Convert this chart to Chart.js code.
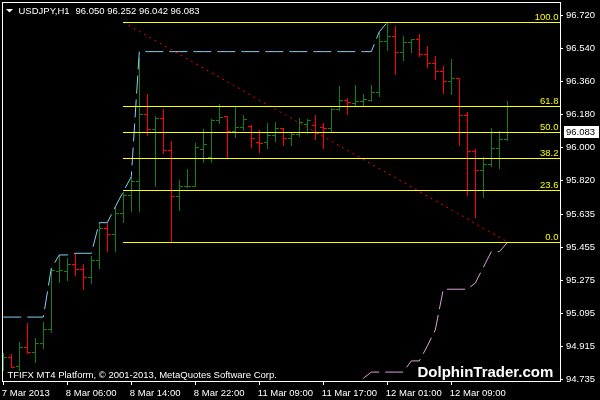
<!DOCTYPE html>
<html>
<head>
<meta charset="utf-8">
<script src="https://cdn.jsdelivr.net/npm/chart.js@4.4.0/dist/chart.umd.min.js"></script>
<style>
html,body{margin:0;padding:0;background:#000;}
canvas{display:block;}
</style>
</head>
<body>
<canvas id="c" width="600" height="400"></canvas>
<script>
// ---------------- data ----------------
const symbolTitle = 'USDJPY,H1';
const titleQuote = '96.050 96.252 96.042 96.083';
const copyrightText = 'TFIFX MT4 Platform, \u00A9 2001-2013, MetaQuotes Software Corp.';
const watermarkText = 'DolphinTrader.com';

const opens = [
  94.815, 94.860, 94.809, 94.914, 94.887, 94.936, 95.009, 95.328, 95.329, 95.366,
  95.337, 95.296, 95.387, 95.560, 95.529, 95.642, 95.742, 95.820, 96.184, 96.100,
  96.160, 95.987, 95.737, 95.791, 95.793, 95.995, 95.950, 96.151, 96.173, 96.093,
  96.111, 96.118, 96.033, 96.030, 96.069, 96.109, 96.051, 96.075, 96.128, 96.124,
  96.115, 96.106, 96.209, 96.260, 96.242, 96.255, 96.260, 96.305, 96.582, 96.611,
  96.520, 96.575, 96.593, 96.509, 96.460, 96.418, 96.364, 96.379, 96.178, 95.982,
  95.877, 95.909, 95.997, 96.050
];
const highs = [
  94.879, 94.875, 94.942, 95.042, 94.960, 95.051, 95.342, 95.415, 95.397, 95.424,
  95.366, 95.409, 95.591, 95.588, 95.678, 95.760, 95.842, 96.488, 96.293, 96.173,
  96.209, 96.038, 95.824, 95.882, 96.027, 96.100, 96.155, 96.238, 96.173, 96.224,
  96.178, 96.124, 96.097, 96.133, 96.142, 96.109, 96.084, 96.160, 96.157, 96.178,
  96.133, 96.218, 96.338, 96.269, 96.342, 96.291, 96.342, 96.633, 96.684, 96.665,
  96.611, 96.593, 96.619, 96.556, 96.502, 96.447, 96.484, 96.382, 96.193, 95.993,
  95.951, 96.109, 96.091, 96.252
];
const lows = [
  94.787, 94.805, 94.787, 94.879, 94.833, 94.906, 94.996, 95.269, 95.278, 95.306,
  95.228, 95.264, 95.342, 95.438, 95.438, 95.596, 95.656, 95.656, 96.069, 95.791,
  95.969, 95.491, 95.660, 95.787, 95.791, 95.924, 95.924, 96.133, 95.942, 96.060,
  96.097, 96.005, 95.975, 95.997, 96.037, 96.015, 96.015, 96.065, 96.079, 96.047,
  95.997, 96.084, 96.206, 96.182, 96.233, 96.229, 96.255, 96.284, 96.533, 96.400,
  96.478, 96.524, 96.502, 96.442, 96.375, 96.297, 96.291, 96.015, 95.742, 95.624,
  95.733, 95.902, 95.888, 96.042
];
const closes = [
  94.860, 94.805, 94.914, 94.884, 94.936, 95.009, 95.333, 95.333, 95.366, 95.337,
  95.296, 95.387, 95.560, 95.529, 95.642, 95.742, 95.820, 96.184, 96.100, 96.160,
  95.987, 95.737, 95.791, 95.793, 96.002, 96.022, 96.151, 96.166, 96.093, 96.111,
  96.155, 96.051, 96.027, 96.069, 96.109, 96.051, 96.075, 96.142, 96.151, 96.079,
  96.106, 96.209, 96.260, 96.248, 96.255, 96.266, 96.305, 96.582, 96.611, 96.520,
  96.575, 96.593, 96.509, 96.460, 96.418, 96.364, 96.379, 96.178, 95.982, 95.877,
  95.909, 95.997, 96.047, 96.083
];

const upperChannel = [
  95.076, 95.076, 95.076, 95.076, 95.076, 95.076, 95.342, 95.415, 95.415, 95.424,
  95.424, 95.424, 95.591, 95.591, 95.678, 95.760, 95.842, 96.524, 96.524, 96.524,
  96.524, 96.524, 96.524, 96.524, 96.524, 96.524, 96.524, 96.524, 96.524, 96.524,
  96.524, 96.524, 96.524, 96.524, 96.524, 96.524, 96.524, 96.524, 96.524, 96.524,
  96.524, 96.524, 96.524, 96.524, 96.524, 96.524, 96.524, 96.633, 96.684, null,
  null, null, null, null, null, null, null, null, null, null,
  null, null, null, null
];
const lowerChannel = [
  null, null, null, null, null, null, null, null, null, null,
  null, null, null, null, null, null, null, null, null, null,
  null, null, null, null, null, null, null, null, null, null,
  null, null, null, null, null, null, null, null, null, null,
  null, null, null, null, null, 94.742, 94.776, 94.776, 94.776, 94.776,
  94.776, 94.837, 94.837, 94.918, 95.006, 95.228, 95.228, 95.228, 95.228, 95.262,
  95.347, 95.433, 95.433, 95.482
];

const fibLevels = [96.684, 96.227, 96.085, 95.943, 95.769, 95.487];
const fibLabels = ['100.0', '61.8', '50.0', '38.2', '23.6', '0.0'];
const fibStartBar = 15;
const fibTrendBars = [15, 63];
const fibTrendPrices = [96.684, 95.487];

const xTickBars = [0, 8, 16, 24, 32, 40, 48, 56];
const xTickLabels = ['7 Mar 2013', '8 Mar 06:00', '8 Mar 14:00', '8 Mar 22:00',
                     '11 Mar 09:00', '11 Mar 17:00', '12 Mar 01:00', '12 Mar 09:00'];
const yTickLabels = ['96.720', '96.540', '96.360', '96.180', '96.000', '95.820',
                     '95.635', '95.455', '95.275', '95.095', '94.915', '94.735'];
const currentPrice = 96.083;
const currentPriceLabel = '96.083';

// ---------------- styles ----------------
const FONT = '"Liberation Sans", Arial, sans-serif';
const GREEN = '#168016';
const RED = '#ff0000';
const YELLOW = '#ffff00';

Chart.defaults.font.family = FONT;
Chart.defaults.font.size = 9.5;
Chart.defaults.color = '#ffffff';

const mt4Plugin = {
  id: 'mt4',
  beforeDraw(chart) {
    const ctx = chart.ctx;
    ctx.save();
    ctx.fillStyle = '#000';
    ctx.fillRect(0, 0, chart.width, chart.height);
    ctx.restore();
  },
  beforeDatasetsDraw(chart) {
    const {ctx, chartArea: a, scales: {x, y}} = chart;
    ctx.save();
    ctx.beginPath();
    ctx.rect(a.left, a.top, a.right - a.left, a.bottom - a.top);
    ctx.clip();
    ctx.lineWidth = 1;
    for (let i = 0; i < opens.length; i++) {
      const c = Math.floor(x.getPixelForValue(i));
      const yh = Math.round(y.getPixelForValue(highs[i]));
      const yl = Math.round(y.getPixelForValue(lows[i]));
      const yo = Math.round(y.getPixelForValue(opens[i])) + 0.5;
      const yc = Math.round(y.getPixelForValue(closes[i])) + 0.5;
      ctx.strokeStyle = closes[i] >= opens[i] ? GREEN : RED;
      ctx.beginPath();
      ctx.moveTo(c + 0.5, yh);
      ctx.lineTo(c + 0.5, yl + 1);
      ctx.moveTo(c - 3, yo);
      ctx.lineTo(c, yo);
      ctx.moveTo(c + 1, yc);
      ctx.lineTo(c + 4, yc);
      ctx.stroke();
    }
    ctx.restore();
  },
  afterDatasetsDraw(chart) {
    const {ctx, chartArea: a, scales: {x, y}} = chart;
    ctx.save();
    // fibonacci levels
    const fx = Math.floor(x.getPixelForValue(fibStartBar));
    ctx.lineWidth = 1;
    ctx.strokeStyle = YELLOW;
    ctx.fillStyle = YELLOW;
    ctx.font = '9.5px ' + FONT;
    ctx.textAlign = 'right';
    ctx.textBaseline = 'alphabetic';
    fibLevels.forEach((v, i) => {
      const yy = Math.round(y.getPixelForValue(v)) + 0.5;
      ctx.beginPath();
      ctx.moveTo(fx, yy);
      ctx.lineTo(a.right, yy);
      ctx.stroke();
      ctx.fillText(fibLabels[i], a.right - 1.5, yy - 3);
    });
    // frame
    ctx.strokeStyle = '#ffffff';
    ctx.strokeRect(a.left + 0.5, a.top + 0.5, a.right - a.left, a.bottom - a.top);
    // title
    ctx.fillStyle = '#ffffff';
    ctx.beginPath();
    ctx.moveTo(6, 9);
    ctx.lineTo(13, 9);
    ctx.lineTo(9.5, 12.5);
    ctx.closePath();
    ctx.fill();
    ctx.textAlign = 'left';
    ctx.fillText(symbolTitle, 18.5, 14);
    ctx.fillText(titleQuote, 75.5, 14);
    // copyright
    ctx.fillText(copyrightText, 7.5, 378);
    // watermark
    ctx.font = 'bold 15px ' + FONT;
    ctx.fillText(watermarkText, 417.5, 377);
    // current price box
    const py = Math.round(y.getPixelForValue(currentPrice));
    ctx.fillStyle = '#ffffff';
    ctx.fillRect(564, py - 6, 35, 12);
    ctx.fillStyle = '#000000';
    ctx.font = '9.5px ' + FONT;
    ctx.textBaseline = 'middle';
    ctx.fillText(currentPriceLabel, 566, py + 0.5);
    ctx.restore();
  }
};

const toXY = arr => arr.map((v, i) => ({x: i, y: v}));

new Chart(document.getElementById('c'), {
  type: 'line',
  data: {
    datasets: [
      {
        data: fibTrendBars.map((b, i) => ({x: b, y: fibTrendPrices[i]})),
        borderColor: RED, borderWidth: 1, borderDash: [2, 4], pointRadius: 0, tension: 0
      },
      {
        data: toXY(upperChannel),
        borderColor: '#87cefa', borderWidth: 1, borderDash: [18, 6], pointRadius: 0, tension: 0
      },
      {
        data: toXY(lowerChannel),
        borderColor: '#dda0dd', borderWidth: 1, borderDash: [18, 6], pointRadius: 0, tension: 0
      }
    ]
  },
  options: {
    responsive: false,
    maintainAspectRatio: false,
    animation: false,
    events: [],
    layout: {padding: {left: 2, top: 2, right: 0, bottom: 0}, autoPadding: false},
    plugins: {legend: {display: false}, tooltip: {enabled: false}, title: {display: false}},
    scales: {
      x: {
        type: 'linear',
        position: 'bottom',
        min: -0.1625,
        max: 69.5875,
        afterBuildTicks: s => { s.ticks = xTickBars.map(v => ({value: v})); },
        afterFit: s => { s.height = 19; s.paddingLeft = 0; s.paddingRight = 0; },
        ticks: {
          callback: (v, i) => xTickLabels[i],
          align: 'start', labelOffset: -1.5, padding: 3,
          maxRotation: 0, minRotation: 0, autoSkip: false,
          color: '#ffffff', font: {size: 9.5}
        },
        grid: {drawOnChartArea: false, drawTicks: true, tickLength: 4, color: '#ffffff'},
        border: {display: false}
      },
      y: {
        type: 'linear',
        position: 'right',
        min: 94.7274,
        max: 96.7947,
        afterBuildTicks: s => { s.ticks = yTickLabels.map(t => ({value: parseFloat(t)})); },
        afterFit: s => { s.width = 40; s.paddingTop = 0; s.paddingBottom = 0; },
        ticks: {
          callback: (v, i) => yTickLabels[i],
          padding: 3, autoSkip: false,
          color: '#ffffff', font: {size: 9.5}
        },
        grid: {drawOnChartArea: false, drawTicks: true, tickLength: 3, color: '#ffffff'},
        border: {display: false}
      }
    }
  },
  plugins: [mt4Plugin]
});
</script>
</body>
</html>
